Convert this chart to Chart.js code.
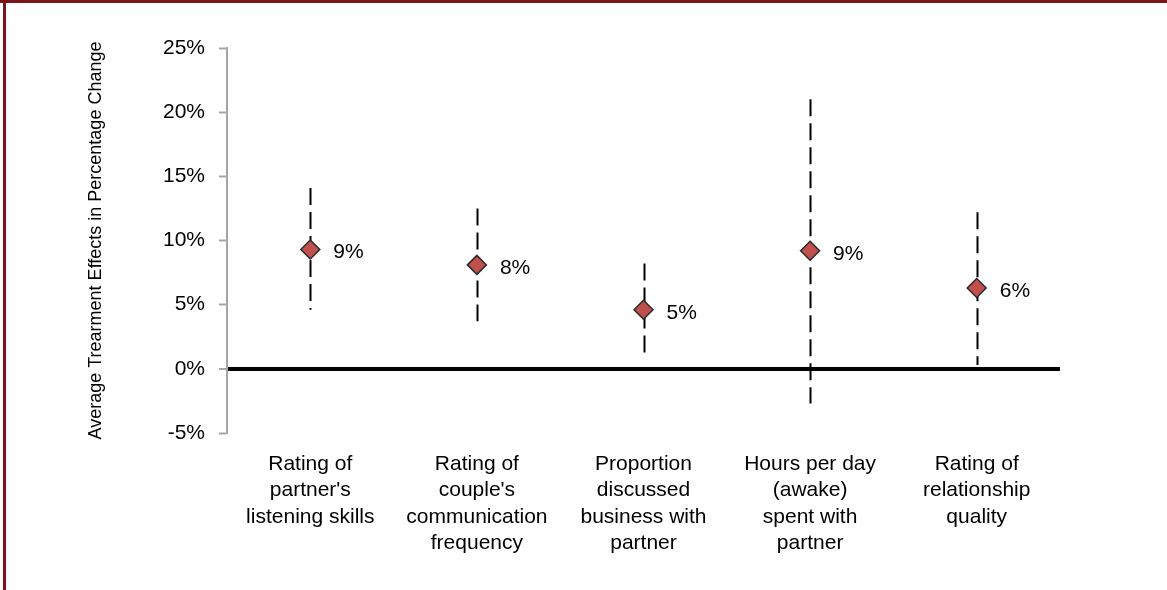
<!DOCTYPE html>
<html>
<head>
<meta charset="utf-8">
<script src="https://cdn.jsdelivr.net/npm/chart.js@4.4.1/dist/chart.umd.min.js"></script>
<style>
  body { margin: 0; background: #fff; }
  #wrap { position: relative; width: 1167px; height: 590px; overflow: hidden; }
  #effectChart { position: absolute; left: 0; top: 0; }
  .edge-top { position: absolute; left: 0; top: 0; width: 1167px; height: 3px; background: #7c141a; }
  .edge-left { position: absolute; left: 3px; top: 0; width: 3px; height: 590px; background: #7c141a; }
</style>
</head>
<body>
<div id="wrap">
  <canvas id="effectChart" width="1167" height="590"></canvas>
  <div class="edge-top"></div>
  <div class="edge-left"></div>
</div>
<script>
const outcomes = [
    ['Rating of', "partner's", 'listening skills'],
    ['Rating of', "couple's", 'communication', 'frequency'],
    ['Proportion', 'discussed', 'business with', 'partner'],
    ['Hours per day', '(awake)', 'spent with', 'partner'],
    ['Rating of', 'relationship', 'quality']
];
const effects = [0.093, 0.081, 0.046, 0.092, 0.063];
const ciLow = [0.046, 0.037, 0.012, -0.027, 0.003];
const ciHigh = [0.141, 0.125, 0.082, 0.210, 0.122];
const yTicks = { min: -0.05, max: 0.25, step: 0.05 };

const pct = v => Math.round(v * 100) + '%';
const FONT = "'Liberation Sans', Arial, sans-serif";

// dashed confidence intervals, drawn under the markers
const intervals = {
    id: 'intervals',
    beforeDatasetsDraw(chart) {
        const ctx = chart.ctx;
        const x = chart.scales.x, y = chart.scales.y;
        ctx.save();
        ctx.strokeStyle = '#000';
        ctx.lineWidth = 2;
        ctx.setLineDash([17, 7]);
        effects.forEach((_, i) => {
            const px = Math.round(x.getPixelForValue(i)) + 0.5;
            ctx.beginPath();
            ctx.moveTo(px, y.getPixelForValue(ciHigh[i]));
            ctx.lineTo(px, y.getPixelForValue(ciLow[i]));
            ctx.stroke();
        });
        ctx.restore();
    }
};

// value labels to the right of each marker
const valueLabels = {
    id: 'valueLabels',
    afterDatasetsDraw(chart) {
        const ctx = chart.ctx;
        const meta = chart.getDatasetMeta(0);
        ctx.save();
        ctx.fillStyle = '#000';
        ctx.font = '21px ' + FONT;
        ctx.textAlign = 'left';
        ctx.textBaseline = 'middle';
        meta.data.forEach((pt, i) => {
            ctx.fillText(pct(effects[i]), pt.x + 23, pt.y + 3);
        });
        ctx.restore();
    }
};

new Chart(document.getElementById('effectChart').getContext('2d'), {
    type: 'line',
    data: {
        labels: outcomes,
        datasets: [{
            data: effects,
            showLine: false,
            pointStyle: 'rectRot',
            pointRadius: 9.5,
            pointHoverRadius: 9.5,
            pointBackgroundColor: '#c0504d',
            pointBorderColor: '#2b2b2b',
            pointBorderWidth: 1.5
        }]
    },
    options: {
        responsive: false,
        animation: false,
        events: [],
        layout: { padding: { left: 0, top: 48, right: 107, bottom: 0 } },
        plugins: {
            legend: { display: false },
            tooltip: { enabled: false }
        },
        scales: {
            x: {
                type: 'category',
                offset: true,
                grid: { display: false },
                border: { display: false },
                ticks: {
                    color: '#000',
                    font: { family: FONT, size: 21, lineHeight: 1.26 },
                    padding: 10,
                    maxRotation: 0,
                    autoSkip: false
                },
                afterFit(axis) { axis.height = 157; }
            },
            y: {
                min: yTicks.min,
                max: yTicks.max,
                ticks: {
                    stepSize: yTicks.step,
                    color: '#000',
                    font: { family: FONT, size: 21 },
                    padding: 14,
                    callback: v => pct(v)
                },
                grid: {
                    drawOnChartArea: true,
                    drawTicks: true,
                    tickLength: 8,
                    tickColor: '#a6a6a6',
                    tickWidth: 2,
                    color: c => (c.tick && Math.abs(c.tick.value) < 1e-9) ? '#000' : 'rgba(0,0,0,0)',
                    lineWidth: c => (c.tick && Math.abs(c.tick.value) < 1e-9) ? 4 : 1
                },
                border: { color: '#a6a6a6', width: 2 },
                title: {
                    display: true,
                    text: 'Average Trearment Effects in Percentage Change',
                    color: '#000',
                    font: { family: FONT, size: 18 },
                    padding: { top: 85, bottom: 0 }
                },
                afterFit(axis) { axis.width = 227; }
            }
        }
    },
    plugins: [intervals, valueLabels]
});
</script>
</body>
</html>
